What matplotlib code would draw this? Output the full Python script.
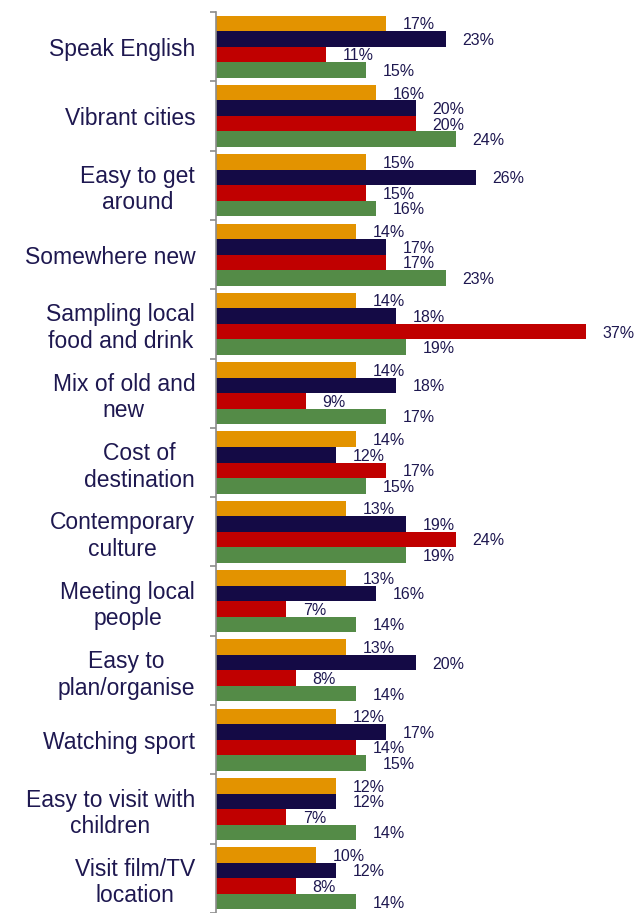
import matplotlib.pyplot as plt
import numpy as np

plt.rcParams['font.family'] = ['Liberation Sans', 'DejaVu Sans']

categories = [
    'Speak English', 'Vibrant cities', 'Easy to get\naround', 'Somewhere new',
    'Sampling local\nfood and drink', 'Mix of old and\nnew', 'Cost of\ndestination',
    'Contemporary\nculture', 'Meeting local\npeople', 'Easy to\nplan/organise',
    'Watching sport', 'Easy to visit with\nchildren', 'Visit film/TV\nlocation',
]

# four respondent groups, one value per category (%)
orange_vals = [17, 16, 15, 14, 14, 14, 14, 13, 13, 13, 12, 12, 10]
navy_vals = [23, 20, 26, 17, 18, 18, 12, 19, 16, 20, 17, 12, 12]
red_vals = [11, 20, 15, 17, 37, 9, 17, 24, 7, 8, 14, 7, 8]
green_vals = [15, 24, 16, 23, 19, 17, 15, 19, 14, 14, 15, 14, 14]

series = [orange_vals, navy_vals, red_vals, green_vals]
colors = ['#E39300', '#140A45', '#C00000', '#548B47']
text_color = '#1E1850'

fig = plt.figure(figsize=(6.35, 9.13), dpi=100)
ax = fig.add_axes([216 / 635, 0.0, 419 / 635, 901 / 913])

n = len(categories)
centers = np.arange(n)
bar_h = 0.224

for j, (vals, col) in enumerate(zip(series, colors)):
    y = centers + (j - 1.5) * bar_h
    bars = ax.barh(y, vals, height=bar_h, color=col, edgecolor='none')
    for rect, v in zip(bars, vals):
        ax.annotate(f'{v}%', (rect.get_width(), rect.get_y() + rect.get_height() / 2),
                    xytext=(12, -1), textcoords='offset points',
                    ha='left', va='center', fontsize=11.5, color=text_color)

ax.set_xlim(0, 41.9)
ax.set_ylim(n - 0.5, -0.5)

# boundary ticks between groups, labels at group centres
ax.set_yticks(np.arange(n + 1) - 0.5)
ax.set_yticklabels([])
ax.set_yticks(centers, minor=True)
ax.set_yticklabels(categories, minor=True, fontsize=16.5, color=text_color)
for lbl in ax.get_yticklabels(minor=True):
    lbl.set_multialignment('center')
ax.tick_params(axis='y', which='major', length=4, color='#8C8C8C', width=1.2)
ax.tick_params(axis='y', which='minor', length=0, pad=15)

ax.set_xticks([])
for side in ['top', 'right', 'bottom']:
    ax.spines[side].set_visible(False)
ax.spines['left'].set_color('#8C8C8C')
ax.spines['left'].set_linewidth(1.2)

fig.savefig('out.png', dpi=100)
